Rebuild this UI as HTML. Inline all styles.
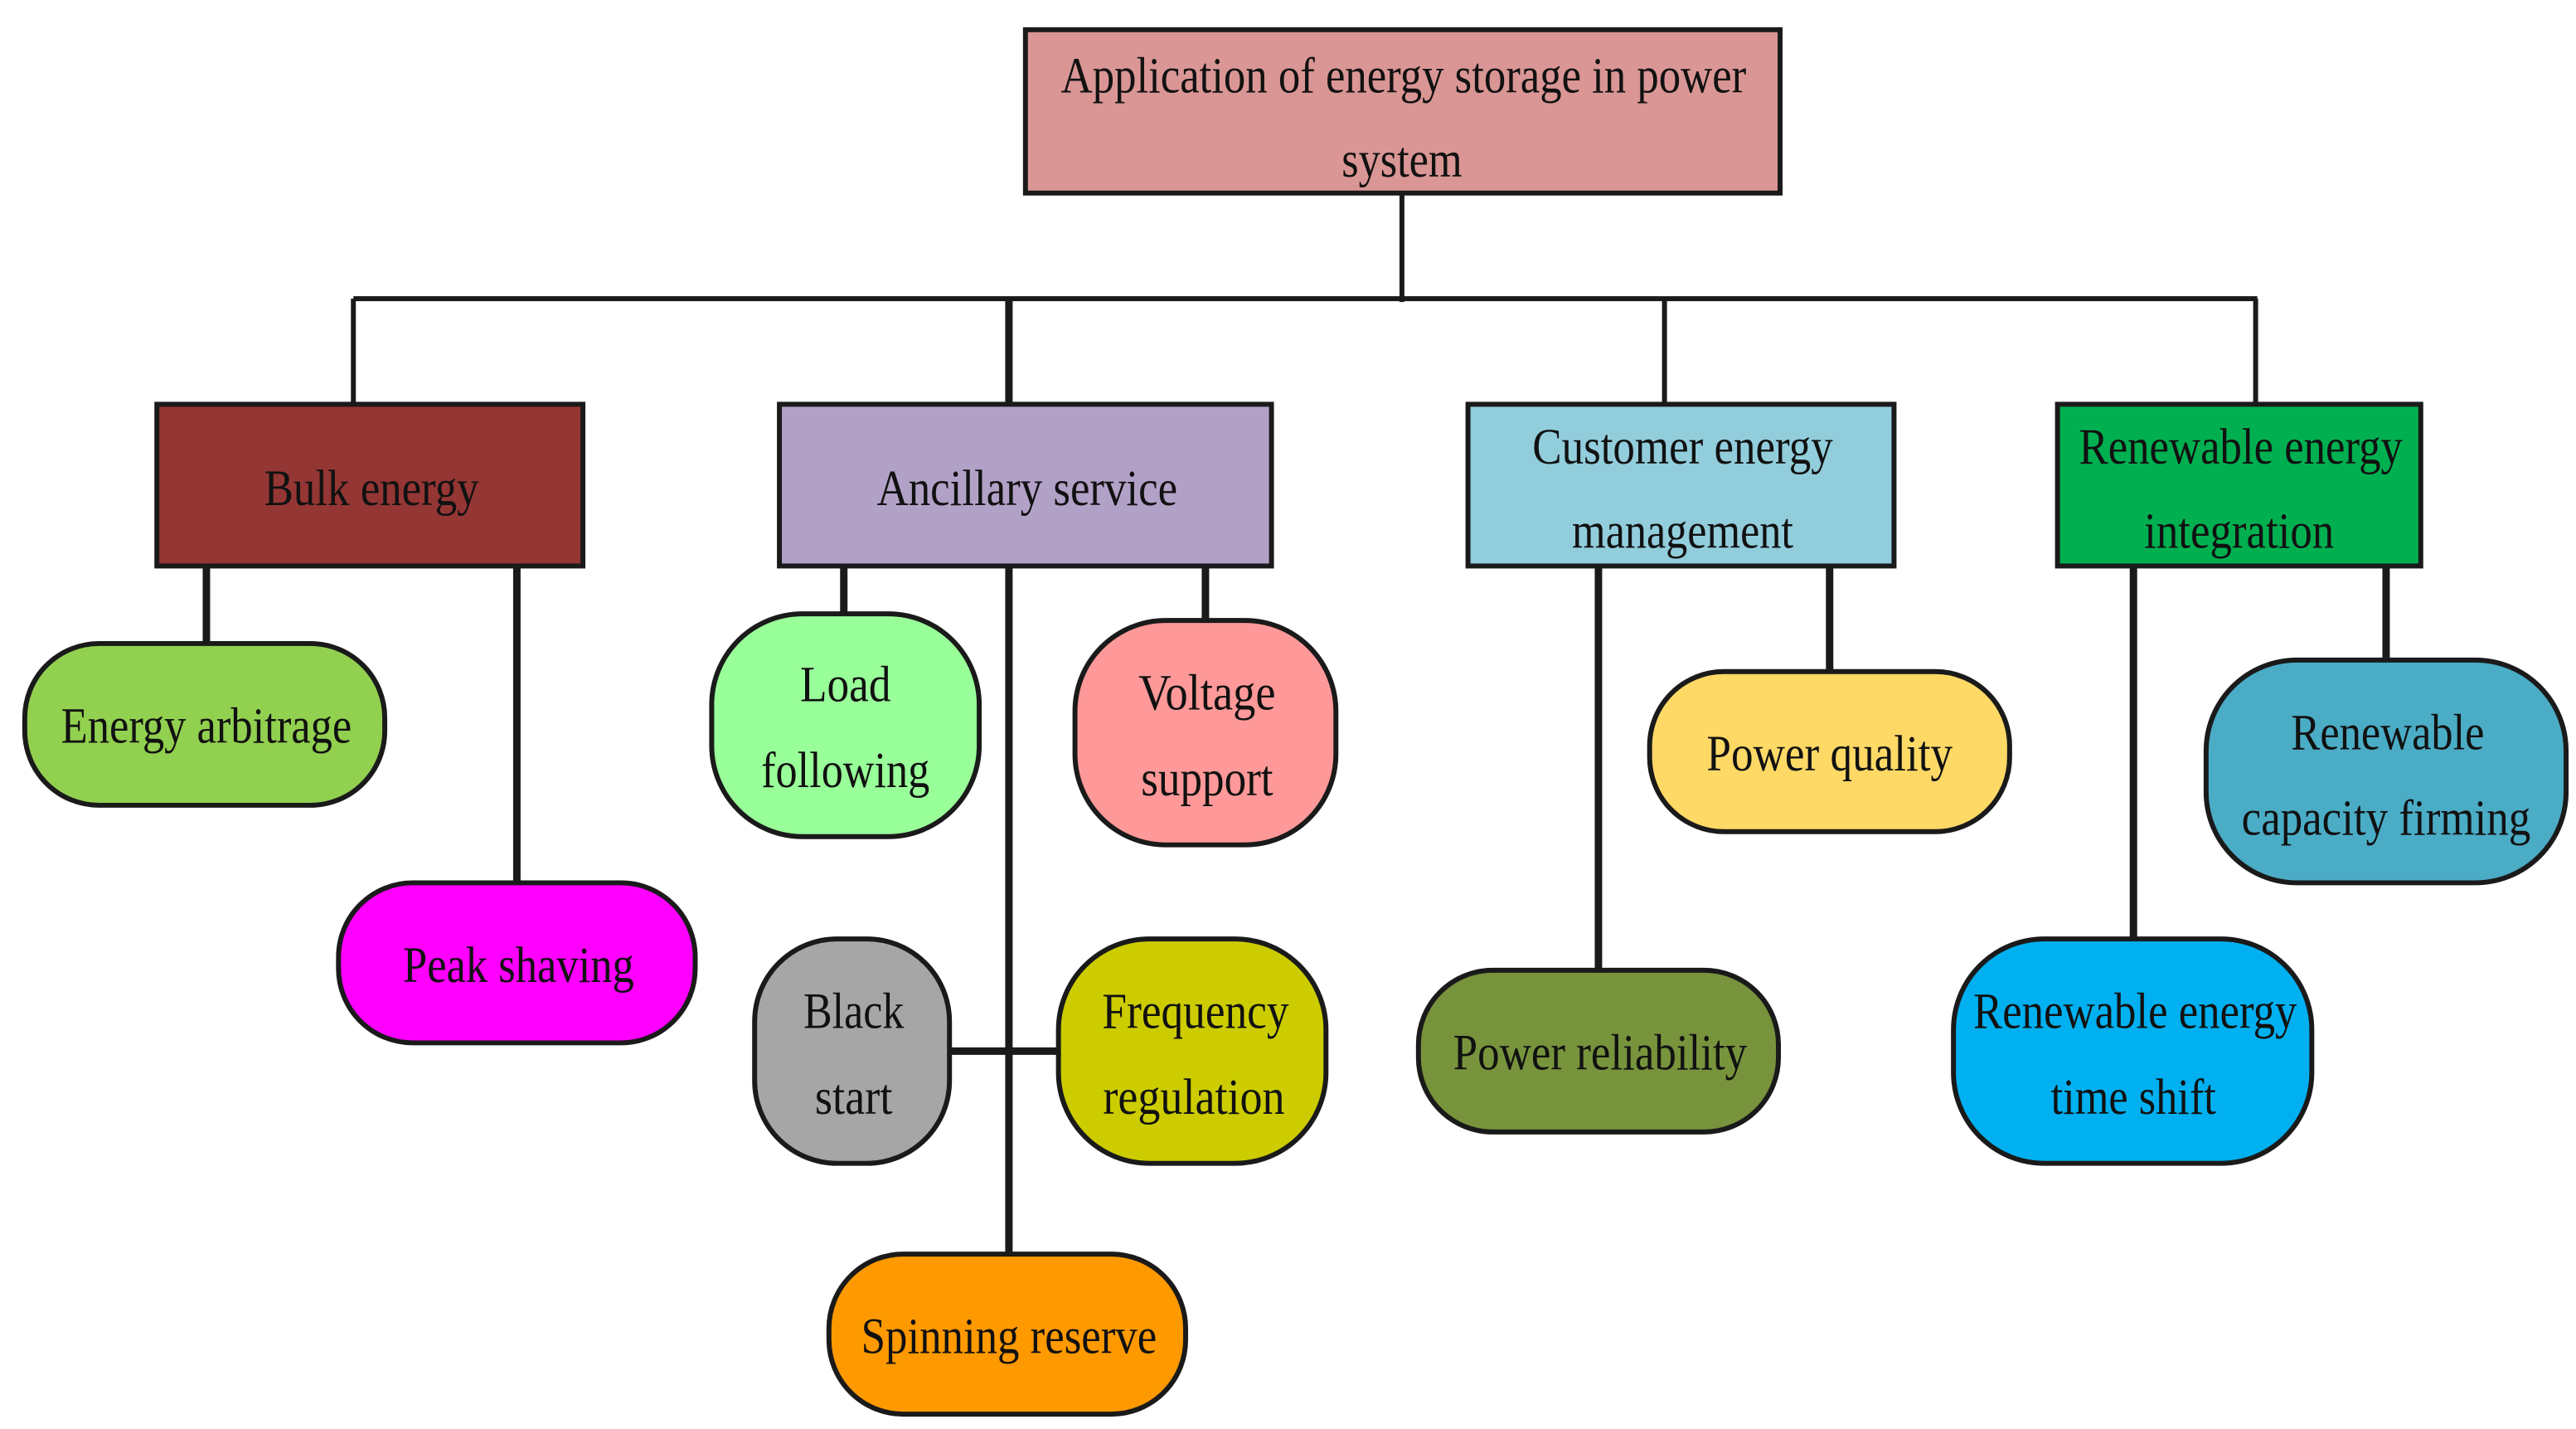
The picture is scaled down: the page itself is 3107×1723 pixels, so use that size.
<!DOCTYPE html>
<html><head><meta charset="utf-8"><style>html,body{margin:0;padding:0;background:#fff}svg{display:block}text{font-family:"Liberation Serif",serif;font-size:31px;fill:#111;text-anchor:middle}</style></head>
<body>
<svg width="3107" height="1723" viewBox="0 0 1560 866" preserveAspectRatio="none" xmlns="http://www.w3.org/2000/svg">
<g stroke="#1a1a1a" stroke-width="3" fill="none">
<line x1="849" y1="117" x2="849" y2="183"/>
<line x1="214" y1="181" x2="1367" y2="181"/>
<line x1="214" y1="181" x2="214" y2="245"/>
<line x1="611" y1="181" x2="611" y2="245" stroke-width="4.5"/>
<line x1="1008" y1="181" x2="1008" y2="245"/>
<line x1="1366" y1="181" x2="1366" y2="245"/>
<line x1="125" y1="343" x2="125" y2="390" stroke-width="4.5"/>
<line x1="313" y1="343" x2="313" y2="535" stroke-width="4.5"/>
<line x1="511" y1="343" x2="511" y2="372" stroke-width="4.5"/>
<line x1="730" y1="343" x2="730" y2="376" stroke-width="4.5"/>
<line x1="611" y1="343" x2="611" y2="760" stroke-width="4.5"/>
<line x1="575" y1="637" x2="641" y2="637" stroke-width="4.5"/>
<line x1="1108" y1="343" x2="1108" y2="407" stroke-width="4.5"/>
<line x1="968" y1="343" x2="968" y2="588" stroke-width="4.5"/>
<line x1="1445" y1="343" x2="1445" y2="400" stroke-width="4.5"/>
<line x1="1292" y1="343" x2="1292" y2="569" stroke-width="4.5"/>
</g>
<g stroke="#1a1a1a" stroke-width="3">
<rect x="621" y="18" width="457" height="99" fill="#d99694"/>
<rect x="95" y="245" width="258" height="98" fill="#943634"/>
<rect x="472" y="245" width="298" height="98" fill="#b2a1c7"/>
<rect x="889" y="245" width="258" height="98" fill="#92cddc"/>
<rect x="1246" y="245" width="220" height="98" fill="#00b050"/>
<rect x="15" y="390" width="218" height="98" rx="45" fill="#92d050"/>
<rect x="205" y="535" width="216" height="97" rx="45" fill="#ff00ff"/>
<rect x="431" y="372" width="162" height="135" rx="55" fill="#99ff99"/>
<rect x="651" y="376" width="158" height="136" rx="55" fill="#ff9999"/>
<rect x="457" y="569" width="118" height="136" rx="50" fill="#a6a6a6"/>
<rect x="641" y="569" width="162" height="136" rx="55" fill="#cccc00"/>
<rect x="502" y="760" width="216" height="97" rx="45" fill="#ff9900"/>
<rect x="999" y="407" width="218" height="97" rx="45" fill="#ffd966"/>
<rect x="859" y="588" width="218" height="98" rx="45" fill="#77933c"/>
<rect x="1336" y="400" width="218" height="135" rx="55" fill="#4bacc6"/>
<rect x="1183" y="569" width="217" height="136" rx="55" fill="#00b0f0"/>
</g>
<g lengthAdjust="spacingAndGlyphs">
<text x="850" y="56" textLength="415" lengthAdjust="spacingAndGlyphs">Application of energy storage in power</text>
<text x="849" y="107" textLength="73" lengthAdjust="spacingAndGlyphs">system</text>
<text x="225" y="306" textLength="130" lengthAdjust="spacingAndGlyphs">Bulk energy</text>
<text x="622" y="306" textLength="182" lengthAdjust="spacingAndGlyphs">Ancillary service</text>
<text x="1019" y="281" textLength="182" lengthAdjust="spacingAndGlyphs">Customer energy</text>
<text x="1019" y="332" textLength="134" lengthAdjust="spacingAndGlyphs">management</text>
<text x="1357" y="281" textLength="196" lengthAdjust="spacingAndGlyphs">Renewable energy</text>
<text x="1356" y="332" textLength="115" lengthAdjust="spacingAndGlyphs">integration</text>
<text x="125" y="450" textLength="176" lengthAdjust="spacingAndGlyphs">Energy arbitrage</text>
<text x="314" y="595" textLength="140" lengthAdjust="spacingAndGlyphs">Peak shaving</text>
<text x="512" y="425" textLength="55" lengthAdjust="spacingAndGlyphs">Load</text>
<text x="512" y="477" textLength="102" lengthAdjust="spacingAndGlyphs">following</text>
<text x="731" y="430" textLength="83" lengthAdjust="spacingAndGlyphs">Voltage</text>
<text x="731" y="482" textLength="80" lengthAdjust="spacingAndGlyphs">support</text>
<text x="517" y="623" textLength="61" lengthAdjust="spacingAndGlyphs">Black</text>
<text x="517" y="675" textLength="47" lengthAdjust="spacingAndGlyphs">start</text>
<text x="724" y="623" textLength="113" lengthAdjust="spacingAndGlyphs">Frequency</text>
<text x="723" y="675" textLength="110" lengthAdjust="spacingAndGlyphs">regulation</text>
<text x="611" y="820" textLength="179" lengthAdjust="spacingAndGlyphs">Spinning reserve</text>
<text x="1108" y="467" textLength="149" lengthAdjust="spacingAndGlyphs">Power quality</text>
<text x="969" y="648" textLength="178" lengthAdjust="spacingAndGlyphs">Power reliability</text>
<text x="1446" y="454" textLength="117" lengthAdjust="spacingAndGlyphs">Renewable</text>
<text x="1445" y="506" textLength="175" lengthAdjust="spacingAndGlyphs">capacity firming</text>
<text x="1293" y="623" textLength="196" lengthAdjust="spacingAndGlyphs">Renewable energy</text>
<text x="1292" y="675" textLength="100" lengthAdjust="spacingAndGlyphs">time shift</text>
</g>
</svg>
</body></html>
